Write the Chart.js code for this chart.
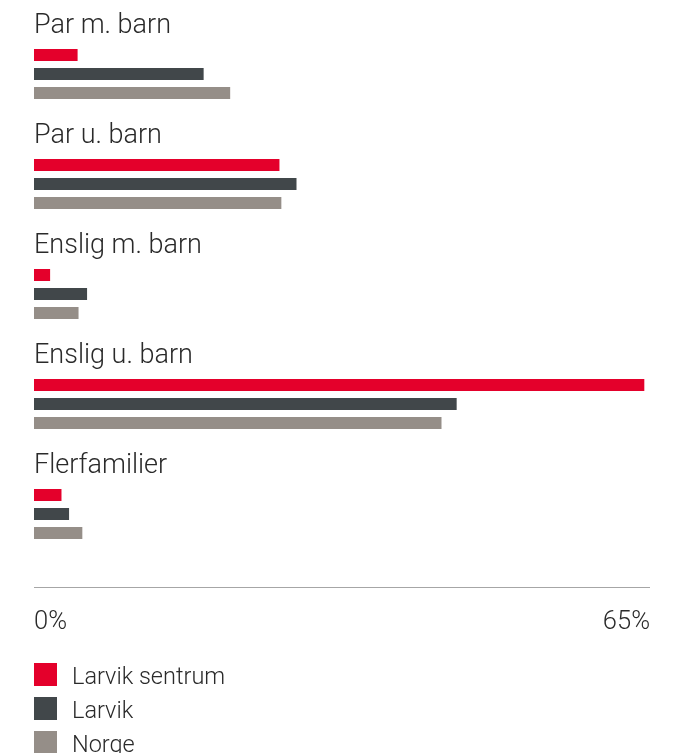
<!DOCTYPE html>
<html>
<head>
<meta charset="utf-8">
<script src="https://cdn.jsdelivr.net/npm/chart.js@4"></script>
<style>
  html, body { margin: 0; padding: 0; background: #fff; }
  #wrap { width: 680px; height: 753px; }
</style>
</head>
<body>
<div id="wrap"><canvas id="chart" width="680" height="753"></canvas></div>
<script>
const categories = ['Par m. barn', 'Par u. barn', 'Enslig m. barn', 'Enslig u. barn', 'Flerfamilier'];
const larvikSentrum = [4.6, 25.9, 1.7, 64.4, 2.9];
const larvik = [17.9, 27.7, 5.6, 44.6, 3.7];
const norge = [20.7, 26.1, 4.7, 43.0, 5.1];
const tickLabels = ['0%', '65%'];
const axisMin = 0;
const axisMax = 65;

const textColor = '#2a2a2a';
const fontFamily = 'Roboto, "Open Sans", sans-serif';

// labels above each group, bottom axis line + end ticks, and the legend list
const overlay = {
    id: 'overlay',
    afterDraw(chart) {
        const ctx = chart.ctx;
        const x = chart.scales.x;
        const y = chart.scales.y;
        const area = chart.chartArea;
        ctx.save();

        ctx.fillStyle = textColor;
        ctx.font = '300 27px ' + fontFamily;
        ctx.textBaseline = 'alphabetic';
        ctx.textAlign = 'left';
        categories.forEach((c, i) => {
            ctx.fillText(c, x.getPixelForValue(axisMin), y.getPixelForValue(i) - 41);
        });

        const lineY = area.bottom + 18.5;
        ctx.strokeStyle = '#a6a6a6';
        ctx.lineWidth = 1;
        ctx.beginPath();
        ctx.moveTo(x.getPixelForValue(axisMin), lineY);
        ctx.lineTo(x.getPixelForValue(axisMax), lineY);
        ctx.stroke();

        ctx.font = '300 25.5px ' + fontFamily;
        ctx.textAlign = 'left';
        ctx.fillText(tickLabels[0], x.getPixelForValue(axisMin), 629);
        ctx.textAlign = 'right';
        ctx.fillText(tickLabels[1], x.getPixelForValue(axisMax), 629);

        ctx.font = '300 23.5px ' + fontFamily;
        ctx.textAlign = 'left';
        chart.data.datasets.forEach((ds, i) => {
            const top = 663 + i * 34;
            ctx.fillStyle = ds.backgroundColor;
            ctx.fillRect(34, top, 23, 23);
            ctx.fillStyle = textColor;
            ctx.fillText(ds.label, 72, top + 21);
        });
        ctx.restore();
    }
};

new Chart(document.getElementById('chart'), {
    type: 'bar',
    data: {
        labels: categories,
        datasets: [
            { label: 'Larvik sentrum', data: larvikSentrum, backgroundColor: '#e4002b' },
            { label: 'Larvik', data: larvik, backgroundColor: '#41474a' },
            { label: 'Norge', data: norge, backgroundColor: '#958e88' }
        ]
    },
    options: {
        indexAxis: 'y',
        responsive: false,
        animation: false,
        categoryPercentage: 0.518,
        barPercentage: 0.632,
        layout: { padding: { left: 34, right: 30, top: 19, bottom: 184 } },
        plugins: {
            legend: { display: false },
            tooltip: { enabled: false }
        },
        scales: {
            x: { display: false, min: axisMin, max: axisMax },
            y: { display: false }
        }
    },
    plugins: [overlay]
});
</script>
</body>
</html>
